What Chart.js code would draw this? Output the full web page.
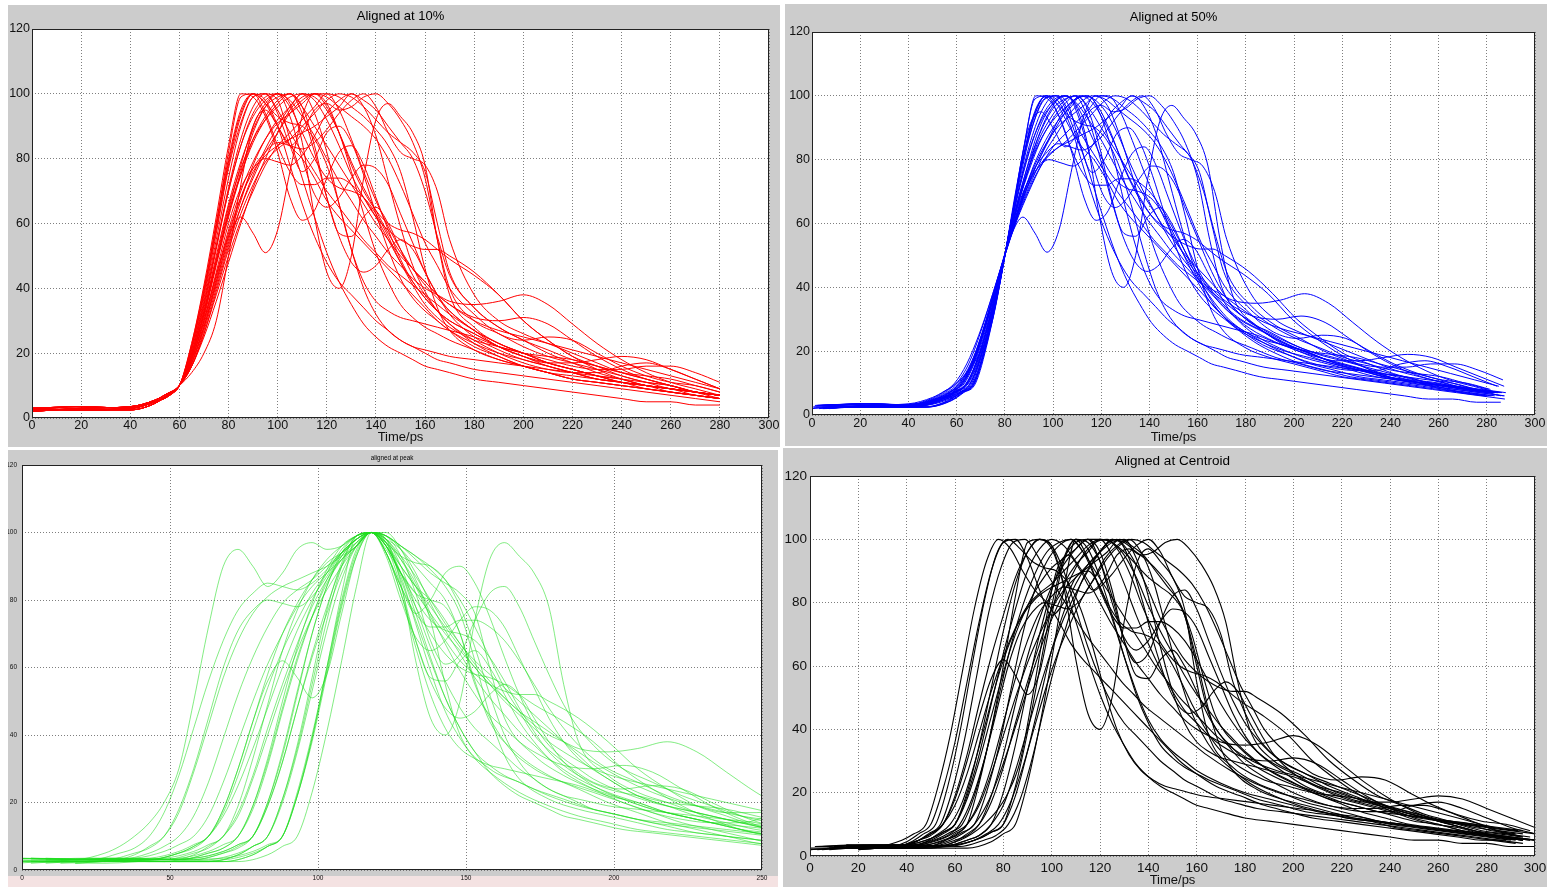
<!DOCTYPE html>
<html>
<head>
<meta charset="utf-8">
<title>Pulse alignment</title>
<script src="https://cdn.jsdelivr.net/npm/chart.js@4.4.1/dist/chart.umd.min.js"></script>
<style>
 html, body { margin: 0; padding: 0; background: #fff; }
 body { width: 1547px; height: 887px; position: relative; overflow: hidden; }
 .panel { position: absolute; }
 .panel canvas { display: block; }
</style>
</head>
<body>
<div class="panel" style="left:8px;top:5px"><canvas id="chart10" width="772" height="442"></canvas></div>
<div class="panel" style="left:785px;top:4px"><canvas id="chart50" width="762" height="442"></canvas></div>
<div class="panel" style="left:8px;top:450px"><canvas id="chartPeak" width="770" height="437"></canvas></div>
<div class="panel" style="left:783px;top:448px"><canvas id="chartCentroid" width="764" height="439"></canvas></div>
<script>
// time base of every pulse (ps, pulse aligned so it crosses 10% at 60)
const timeGrid = [-30, 0, 20, 40, 50, 55, 60,
 65, 70, 75, 80, 85, 90, 95, 100, 105, 110, 115, 120, 125, 130, 135, 140, 145, 150, 155, 160, 165, 170,
 180, 190, 200, 210, 220, 230, 240, 250, 260, 270, 280, 290, 300, 320];

// normalised pulse amplitudes (%), one array per pulse
const pulse01 = [3,2.5,2.5,3,5,7,10, 22,38,58,78,93,100,97,90,84,80,74,67,62,58,54,50,46,42,38,34,30,27, 22,19,16,14,12,11,10,9,8,7,6,5,5, 4];
const pulse02 = [3.5,3,2.5,2.5,4.5,7,10, 21,36,55,74,90,99,100,94,84,76,80,88,90,85,75,63,52,43,37,33,30,27, 23,20,18,16,14,13,12,10,9,8,7,6,5, 4];
const pulse03 = [2.5,2,3,3.5,5.5,7.5,10, 19,32,48,64,78,90,97,100,98,93,87,80,73,67,61,56,51,47,43,40,38,36, 35,36,38,35,29,23,18,14,11,9,7,6,5, 4];
const pulse04 = [3,3,3.5,3,5,6.5,10, 18,30,44,56,62,57,51,58,76,93,100,97,88,76,63,51,42,35,31,28,26,24, 21,18,16,14,13,12,11,10,9,8,7,6,5, 4];
const pulse05 = [3,2.5,2.5,3,5,7,10, 19,32,48,63,76,88,96,100,97,85,62,45,40,50,74,92,97,93,88,78,55,38, 28,23,20,17,15,13,11,10,9,8,7,6,5, 4];
const pulse06 = [3.5,3,2.5,2.5,4.5,7,10, 17,28,42,55,67,78,86,92,96,100,99,95,88,79,71,64,57,51,46,41,37,33, 27,23,20,17,15,13,11,10,8,7,6,5,5, 4];
const pulse07 = [2.5,2,3,3.5,5.5,7.5,10, 16,26,38,50,61,70,78,84,88,92,96,100,99,96,93,89,84,76,62,46,34,27, 21,18,16,14,12,11,10,9,8,7,6,5,4, 4];
const pulse08 = [3,3,3.5,3,5,6.5,10, 18,30,45,60,71,77,80,79,78,81,87,94,98,100,96,87,73,59,47,39,33,29, 23,19,16,14,12,11,10,9,8,7,6,5,4, 4];
const pulse09 = [3,2.5,2.5,3,5,7,10, 14,20,30,50,72,90,95,90,84,88,95,97,95,96,99,100,97,92,85,74,55,40, 30,26,22,19,17,15,13,11,10,8,7,6,5, 4];
const pulse10 = [3.5,3,2.5,2.5,4.5,7,10, 23,40,60,82,99,100,98,90,78,66,56,48,42,38,34,30,27,24,22,20,18,17, 15,14,13,12,11,10,9,8,7,6,5,4,4, 3];
const pulse11 = [2.5,2,3,3.5,5.5,7.5,10, 20,34,52,70,84,93,98,100,96,88,80,74,71,70,68,63,56,48,41,35,31,28, 24,22,20,19,18,16,14,12,10,8,7,6,5, 4];
const pulse12 = [3,3,3.5,3,5,6.5,10, 19,32,48,63,75,85,92,97,100,96,84,68,57,56,62,65,60,52,44,38,33,29, 24,20,17,15,14,14,16,17,15,12,9,7,6, 5];
const pulse13 = [3,2.5,2.5,3,5,7,10, 17,28,41,54,65,74,82,88,94,98,100,99,96,93,90,86,80,72,63,54,47,40, 32,26,24,25,24,20,16,13,11,10,8,7,6, 5];
const pulse14 = [3.5,3,2.5,2.5,4.5,7,10, 23,41,62,84,100,99,93,82,68,61,64,74,82,84,78,68,58,49,42,37,33,30, 26,22,19,16,14,12,11,10,9,8,7,6,5, 4];
const pulse15 = [2.5,2,3,3.5,5.5,7.5,10, 19,33,50,66,79,89,96,99,100,96,90,84,78,72,66,60,55,50,46,42,38,35, 30,27,25,23,21,19,17,15,13,11,9,8,7, 6];
const pulse16 = [3,3,3.5,3,5,6.5,10, 16,27,40,53,65,75,83,90,96,100,98,92,84,75,68,62,58,55,53,52,52,50, 45,38,30,24,19,16,13,11,9,8,7,6,5, 4];
const pulse17 = [3,2.5,2.5,3,5,7,10, 20,35,53,71,86,96,100,98,86,74,62,51,42,35,29,25,22,20,18,16,15,14, 12,11,10,9,8,7,6,5,5,4,4,3,3, 3];
const pulse18 = [3.5,3,2.5,2.5,4.5,7,10, 17,29,43,57,68,76,81,84,86,88,90,93,96,100,98,95,90,85,80,70,56,44, 34,28,24,20,17,14,12,10,9,8,7,6,5, 4];
const pulse19 = [2.5,2,3,3.5,5.5,7.5,10, 22,39,59,79,94,100,94,84,76,72,72,74,74,72,68,62,55,48,42,37,33,30, 26,22,19,17,17,18,19,18,15,12,9,7,6, 5];
const pulse20 = [3,3,3.5,3,5,6.5,10, 18,31,47,62,75,86,93,98,100,94,82,68,56,48,45,47,52,55,52,45,38,32, 25,21,18,16,14,12,11,10,9,8,7,6,5, 4];
const pulse21 = [3,2.5,2.5,3,5,7,10, 16,25,36,48,60,71,80,88,95,99,100,96,88,78,70,64,60,58,57,55,52,49, 44,38,30,24,19,15,12,10,9,7,6,5,5, 4];
const pulse22 = [3.5,3,2.5,2.5,4.5,7,10, 22,39,60,80,95,100,97,93,91,90,86,78,66,52,40,32,27,24,22,21,20,19, 18,17,16,15,14,12,11,9,8,7,6,5,4, 3];
const pulse23 = [2.5,2,3,3.5,5.5,7.5,10, 18,30,44,58,70,79,86,91,94,97,100,100,95,86,76,67,59,52,46,42,38,35, 31,30,31,29,24,19,15,12,10,8,7,6,5, 4];
const pulse24 = [3,3,3.5,3,5,6.5,10, 20,35,53,70,84,94,99,100,93,80,69,65,68,74,78,77,72,63,54,45,38,33, 27,22,19,17,15,13,12,11,10,8,6,5,5, 4];
const pulse25 = [3,2.5,2.5,3,5,7,10, 16,26,39,52,63,72,79,83,86,90,94,98,100,99,96,92,88,85,82,76,60,45, 34,28,24,21,18,16,14,13,12,10,8,6,5, 4];
const pulse26 = [3.5,3,2.5,2.5,4.5,7,10, 21,37,57,77,91,99,100,95,88,82,76,70,65,60,55,51,47,44,41,38,35,32, 27,23,20,18,16,15,15,16,16,14,11,8,6, 5];
const pulse27 = [2.5,2,3,3.5,5.5,7.5,10, 19,33,49,65,77,86,92,96,99,100,94,82,66,52,42,36,33,31,30,29,28,27, 25,22,20,17,15,13,11,10,9,8,7,6,5, 4];
const pulse28 = [3,3,3.5,3,5,6.5,10, 17,28,42,56,68,77,82,85,84,83,85,89,94,98,100,96,88,82,80,78,70,55, 38,30,26,23,20,17,14,12,10,8,7,6,5, 4];

const pulses = [pulse01, pulse02, pulse03, pulse04, pulse05, pulse06, pulse07, pulse08, pulse09, pulse10,
 pulse11, pulse12, pulse13, pulse14, pulse15, pulse16, pulse17, pulse18, pulse19, pulse20,
 pulse21, pulse22, pulse23, pulse24, pulse25, pulse26, pulse27, pulse28];

// time offset (ps) of each pulse for the four alignments
const shiftAt10 = [0, 0, 0, 0, 0, 0, 0, 0, 0, 0, 0, 0, 0, 0, 0, 0, 0, 0, 0, 0, 0, 0, 0, 0, 0, 0, 0, 0];
const shiftAt50 = [7, 6.3, 4.4, 2.5, 4.3, 1.9, 0, 3.3, 0, 7.5, 5.6, 4.3, 1.5, 7.9, 5, 1.2, 5.8, 2.5, 7.2, 4,
 -0.8, 7.4, 2.9, 5.8, 0.8, 6.7, 4.7, 2.1];
const shiftAtPeak = [28, 23, 18, 3, 18, 8, -2, -12, -22, 28, 18, 13, 3, 33, 13, 8, 23, -12, 28, 13,
 3, 28, 3, 18, -7, 23, 8, -17];
const shiftAtCentroid = [-12, -10, 0, -5, -5, 10, 5, 2, 12, 5, 8, 10, 18, 25, 3, 15, 0, -2, 20, 22,
 8, -8, 0, 15, -5, -6, 20, 5];

// axis ticks
const xTicksMain = [0, 20, 40, 60, 80, 100, 120, 140, 160, 180, 200, 220, 240, 260, 280, 300];
const xTicksPeak = [0, 50, 100, 150, 200, 250];
const yTicks = [0, 20, 40, 60, 80, 100, 120];

const FONT = '"Liberation Sans", Arial, Helvetica, sans-serif';

function seriesFor(pulse, shift, lo, hi) {
 const pts = [];
 pulse.forEach((y, i) => {
  const x = timeGrid[i] + shift;
  if (x >= lo && x <= hi) pts.push({ x: x, y: y });
 });
 return pts;
}

// gray figure background, white axes box, black frame and the title
const panelDecor = {
 id: 'panelDecor',
 beforeDraw(chart, args, opts) {
  const { ctx, chartArea: a, width, height } = chart;
  ctx.save();
  ctx.fillStyle = '#cccccc';
  ctx.fillRect(0, 0, width, height);
  if (opts.stripFrom) {
   ctx.fillStyle = '#f4e2e2';
   ctx.fillRect(0, opts.stripFrom, width, height - opts.stripFrom);
  }
  ctx.fillStyle = '#ffffff';
  ctx.fillRect(a.left, a.top, a.right - a.left, a.bottom - a.top);
  ctx.restore();
 },
 afterDatasetsDraw(chart) {
  const { ctx, chartArea: a } = chart;
  const l = Math.round(a.left), t = Math.round(a.top), r = Math.round(a.right), b = Math.round(a.bottom);
  ctx.save();
  ctx.strokeStyle = '#222';
  ctx.lineWidth = 1;
  ctx.strokeRect(l + 0.5, t + 0.5, r - l - 1, b - t - 1);
  ctx.restore();
 },
 afterDraw(chart, args, opts) {
  const { ctx, chartArea: a } = chart;
  ctx.save();
  ctx.fillStyle = '#000';
  ctx.font = opts.titleSize + 'px ' + FONT;
  ctx.textAlign = 'center';
  ctx.textBaseline = 'middle';
  ctx.fillText(opts.title, (a.left + a.right) / 2, opts.titleY);
  ctx.restore();
 }
};

function makeChart(p) {
 const datasets = pulses.map((pulse, k) => ({
  data: seriesFor(pulse, p.shifts[k], p.lo, p.hi),
  borderColor: p.color,
  borderWidth: p.lineWidth,
  pointRadius: 0,
  fill: false,
  cubicInterpolationMode: 'monotone'
 }));

 const gridOpts = { color: 'rgba(105,105,105,0.85)', lineWidth: 1, drawTicks: false };
 const borderOpts = { display: false, dash: [1, 2] };

 return new Chart(document.getElementById(p.canvas), {
  type: 'line',
  data: { datasets: datasets },
  plugins: [panelDecor],
  options: {
   responsive: false,
   animation: false,
   devicePixelRatio: 1,
   parsing: false,
   events: [],
   layout: { padding: { left: 0, top: p.areaTop, right: p.padRight, bottom: 0 } },
   plugins: {
    legend: { display: false },
    tooltip: { enabled: false },
    title: { display: false },
    panelDecor: { title: p.title, titleSize: p.titleSize, titleY: p.titleY, stripFrom: p.stripFrom }
   },
   scales: {
    x: {
     type: 'linear',
     min: 0,
     max: p.xMax,
     afterFit: s => { s.height = p.xAxisHeight; s.paddingLeft = 0; s.paddingRight = 0; },
     afterBuildTicks: s => { s.ticks = p.xTicks.map(v => ({ value: v })); },
     ticks: { color: '#111', font: { family: FONT, size: p.tickSize }, padding: p.xTickPad, maxRotation: 0, autoSkip: false },
     grid: gridOpts,
     border: borderOpts,
     title: {
      display: !!p.xTitle,
      text: p.xTitle || '',
      color: '#111',
      font: { family: FONT, size: 13, lineHeight: 1 },
      padding: { top: 0, bottom: p.xTitleBottom || 0 }
     }
    },
    y: {
     type: 'linear',
     min: 0,
     max: 120,
     afterFit: s => { s.width = p.yAxisWidth; s.paddingTop = 0; s.paddingBottom = 0; },
     afterBuildTicks: s => { s.ticks = yTicks.map(v => ({ value: v })); },
     ticks: { color: '#111', font: { family: FONT, size: p.tickSize }, padding: p.yTickPad },
     grid: gridOpts,
     border: borderOpts
    }
   }
  }
 });
}

makeChart({
 canvas: 'chart10', title: 'Aligned at 10%', color: '#ff0000', lineWidth: 1, shifts: shiftAt10,
 lo: 0, hi: 286, xMax: 300, xTicks: xTicksMain,
 areaTop: 24, yAxisWidth: 24, padRight: 11, xAxisHeight: 29,
 tickSize: 12.5, xTickPad: 0, yTickPad: 2, titleSize: 13, titleY: 11,
 xTitle: 'Time/ps', xTitleBottom: 3.5
});

makeChart({
 canvas: 'chart50', title: 'Aligned at 50%', color: '#0000ff', lineWidth: 1, shifts: shiftAt50,
 lo: 0, hi: 288, xMax: 300, xTicks: xTicksMain,
 areaTop: 28, yAxisWidth: 27, padRight: 12, xAxisHeight: 31,
 tickSize: 12.5, xTickPad: 1.5, yTickPad: 2, titleSize: 13, titleY: 13,
 xTitle: 'Time/ps', xTitleBottom: 2.5
});

makeChart({
 canvas: 'chartPeak', title: 'aligned at peak', color: 'rgba(30,220,30,0.55)', lineWidth: 1, shifts: shiftAtPeak,
 lo: -10, hi: 280, xMax: 250, xTicks: xTicksPeak,
 areaTop: 15, yAxisWidth: 14, padRight: 16, xAxisHeight: 17,
 tickSize: 6.5, xTickPad: 4.6, yTickPad: 5, titleSize: 6.3, titleY: 8,
 xTitle: null, stripFrom: 426
});

makeChart({
 canvas: 'chartCentroid', title: 'Aligned at Centroid', color: '#000000', lineWidth: 1.1, shifts: shiftAtCentroid,
 lo: 0, hi: 300, xMax: 300, xTicks: xTicksMain,
 areaTop: 28, yAxisWidth: 27, padRight: 12, xAxisHeight: 31,
 tickSize: 13.5, xTickPad: 3.9, yTickPad: 3, titleSize: 13.5, titleY: 13,
 xTitle: 'Time/ps', xTitleBottom: 0
});
</script>
</body>
</html>
